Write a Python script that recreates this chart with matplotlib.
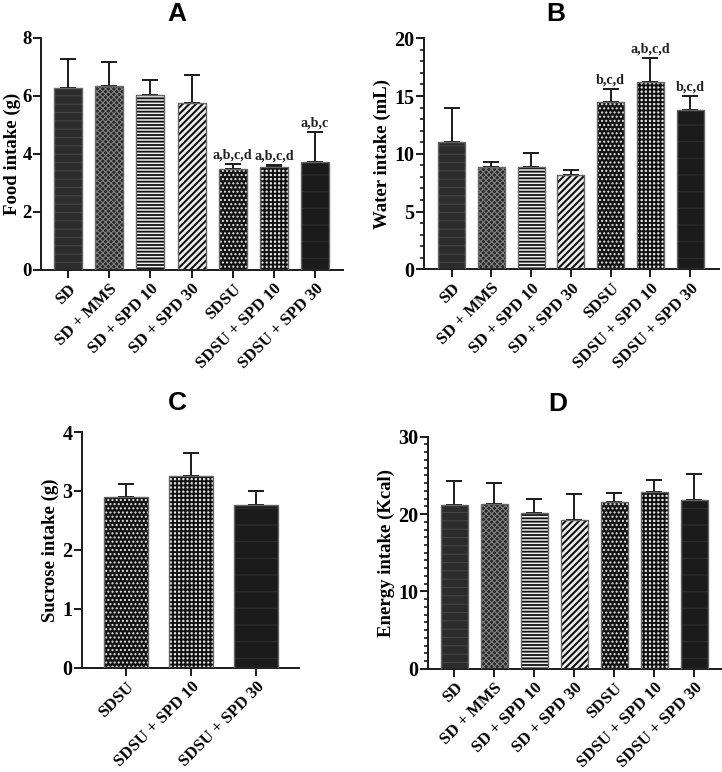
import matplotlib
matplotlib.use("Agg")
import matplotlib.pyplot as plt
from matplotlib.ticker import MultipleLocator

groups = ['SD', 'SD + MMS', 'SD + SPD 10', 'SD + SPD 30', 'SDSU', 'SDSU + SPD 10', 'SDSU + SPD 30']
food_mean = [6.28, 6.33, 6.01, 5.74, 3.49, 3.56, 3.72]
food_sem = [0.97, 0.84, 0.52, 0.98, 0.16, 0.04, 1.03]
food_sig = ['', '', '', '', 'a,b,c,d', 'a,b,c,d', 'a,b,c']
water_mean = [11.05, 8.88, 8.83, 8.16, 14.46, 16.24, 13.77]
water_sem = [2.89, 0.44, 1.21, 0.44, 1.12, 2.03, 1.23]
water_sig = ['', '', '', '', 'b,c,d', 'a,b,c,d', 'b,c,d']
sucrose_groups = ['SDSU', 'SDSU + SPD 10', 'SDSU + SPD 30']
sucrose_mean = [2.90, 3.26, 2.76]
sucrose_sem = [0.22, 0.39, 0.24]
energy_mean = [21.12, 21.29, 20.13, 19.27, 21.51, 22.84, 21.81]
energy_sem = [3.15, 2.76, 1.77, 3.27, 1.16, 1.56, 3.41]

# style per group: (face, hatch, hatch colour, hatch lw)
styles = {
    'SD': ('#2c2c2c', '--', '#444444', 0.8),
    'SD + MMS': ('#2a2a2a', 'xxxxxx', '#7e7e7e', 0.8),
    'SD + SPD 10': ('#f0f0f0', '-----', '#111111', 1.3),
    'SD + SPD 30': ('#f0f0f0', '/////', '#111111', 1.5),
    'SDSU': ('#111111', '....', '#e0e0e0', 1.0),
    'SDSU + SPD 10': ('#e6e6e6', '++++', '#111111', 1.4),
    'SDSU + SPD 30': ('#1b1b1b', '-', '#2e2e2e', 0.8),
}

W, H = 722, 772
fig = plt.figure(figsize=(W / 100, H / 100), dpi=100)

serif = ['Liberation Serif', 'DejaVu Serif']


def make_ax(l, r, t, b):
    return fig.add_axes([l / W, 1 - b / H, (r - l) / W, (b - t) / H])


def draw(ax, cats, means, sems, sigs, ylim, major, minor, ylabel, xlim,
         ytick_size=14.5):
    x = list(range(len(cats)))
    for i, c in enumerate(cats):
        face, hatch, hc, hlw = styles[c]
        with plt.rc_context({'hatch.linewidth': hlw}):
            b = ax.bar(i, means[i], width=0.68, color=face, edgecolor=hc,
                       hatch=hatch, linewidth=0, zorder=2)
        for p in b:
            if hasattr(p, 'set_hatch_linewidth'):
                p.set_hatch_linewidth(hlw)
    ax.bar(x, means, width=0.68, fill=False, edgecolor='#666666',
           linewidth=1.0, zorder=3)
    ax.errorbar(x, means, yerr=[[0] * len(x), sems], fmt='none',
                ecolor='#1a1a1a', elinewidth=1.4, capsize=5.5, capthick=1.4,
                zorder=1)
    if sigs:
        for i, s in enumerate(sigs):
            if s:
                ax.text(i, means[i] + sems[i] + ylim[1] * 0.012, s,
                        ha='center', va='bottom', fontsize=10.2,
                        fontweight='bold', family=serif, color='#222222')
    ax.set_ylim(*ylim)
    ax.set_xlim(*xlim)
    ax.yaxis.set_major_locator(MultipleLocator(major))
    if minor:
        ax.yaxis.set_minor_locator(MultipleLocator(minor))
    ax.spines['top'].set_visible(False)
    ax.spines['right'].set_visible(False)
    for s in ('left', 'bottom'):
        ax.spines[s].set_linewidth(1.4)
        ax.spines[s].set_color('#1a1a1a')
    ax.tick_params(axis='both', which='major', length=5.5, width=1.4,
                   color='#1a1a1a')
    ax.tick_params(axis='y', which='major', pad=1.2)
    ax.tick_params(axis='x', which='major', pad=2.5)
    ax.tick_params(axis='y', which='minor', length=3.2, width=1.2,
                   color='#1a1a1a')
    ax.set_xticks(x)
    ax.set_xticklabels(cats, rotation=45, ha='right', rotation_mode='anchor',
                       fontsize=12, fontweight='bold', family=serif)
    for lab in ax.get_yticklabels():
        lab.set_fontsize(ytick_size)
        lab.set_fontweight('bold')
        lab.set_family(serif)
    ax.set_ylabel(ylabel, fontsize=13.5, fontweight='bold', family=serif,
                  labelpad=2)


axA = make_ax(41, 343, 37.7, 270)
draw(axA, groups, food_mean, food_sem, food_sig, (0, 8), 2, None,
     'Food intake (g)', (-0.656, 6.68), ytick_size=13.5)
axA.yaxis.set_label_coords(-0.067, 0.5)
axB = make_ax(423.7, 719, 38.3, 269.3)
draw(axB, groups, water_mean, water_sem, water_sig, (0, 20), 5, 1,
     'Water intake (mL)', (-0.705, 6.73))
axC = make_ax(81.7, 299, 432, 667.7)
draw(axC, sucrose_groups, sucrose_mean, sucrose_sem, None, (0, 4), 1, None,
     'Sucrose intake (g)', (-0.68, 2.66))
axD = make_ax(427.7, 721, 436.7, 668.7)
draw(axD, groups, energy_mean, energy_sem, None, (0, 30), 10, 1,
     'Energy intake (Kcal)', (-0.665, 6.67))

for letter, px, py in [('A', 177, 14), ('B', 556, 14), ('C', 177, 403), ('D', 558, 404)]:
    fig.text(px / W, 1 - py / H, letter, ha='center', va='center',
             fontsize=19, fontweight='bold', family=['Liberation Sans', 'DejaVu Sans'])

fig.savefig('out.png', dpi=100)
